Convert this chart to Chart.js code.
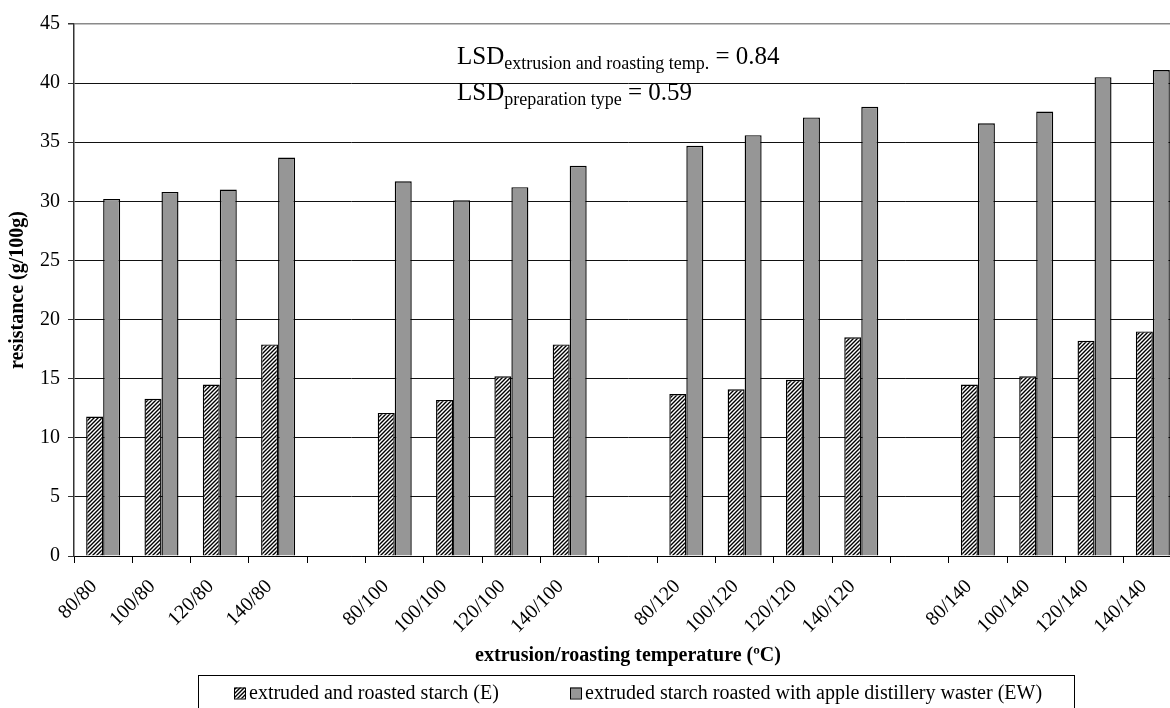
<!DOCTYPE html>
<html>
<head>
<meta charset="utf-8">
<script src="https://cdn.jsdelivr.net/npm/chart.js@4.4.0/dist/chart.umd.min.js"></script>
<style>
  html, body { margin: 0; padding: 0; background: #fff; overflow: hidden; width: 1170px; height: 708px; }
  #wrap { position: relative; width: 1190px; height: 720px; }
</style>
</head>
<body>
<div id="wrap"><canvas id="c" width="1190" height="720"></canvas></div>
<script>
// Extrusion/roasting temperature combinations; empty slots separate the roasting groups
const categories = [
  '80/80', '100/80', '120/80', '140/80', '',
  '80/100', '100/100', '120/100', '140/100', '',
  '80/120', '100/120', '120/120', '140/120', '',
  '80/140', '100/140', '120/140', '140/140'
];

// Resistant starch content, g/100g
const seriesE = [
  11.8, 13.3, 14.5, 17.9, null,
  12.1, 13.2, 15.2, 17.9, null,
  13.7, 14.1, 14.9, 18.5, null,
  14.5, 15.2, 18.2, 19.0
];
const seriesEW = [
  30.2, 30.8, 31.0, 33.7, null,
  31.7, 30.1, 31.2, 33.0, null,
  34.7, 35.6, 37.1, 38.0, null,
  36.6, 37.6, 40.5, 41.1
];

const seriesNames = [
  'extruded and roasted starch (E)',
  'extruded starch roasted with apple distillery waster (EW)'
];

const yMin = 0, yMax = 45, yStep = 5;

const lsdLines = [
  { main: 'LSD', sub: 'extrusion and roasting temp.', value: ' = 0.84' },
  { main: 'LSD', sub: 'preparation type', value: ' = 0.59' }
];

const SERIF = "'Liberation Serif', 'Times New Roman', serif";

// Diagonal hatch fill for the E series
function makeHatch() {
  const t = document.createElement('canvas');
  t.width = 4; t.height = 4;
  const g = t.getContext('2d');
  g.fillStyle = '#fff';
  g.fillRect(0, 0, 4, 4);
  g.strokeStyle = '#000';
  g.lineWidth = 1.4;
  g.beginPath();
  g.moveTo(-1, 5); g.lineTo(5, -1);
  g.moveTo(-1, 1); g.lineTo(1, -1);
  g.moveTo(3, 5); g.lineTo(5, 3);
  g.stroke();
  return g.createPattern(t, 'repeat');
}
const hatch = makeHatch();
const ewGray = '#969696';

// LSD annotation in the upper part of the plot
const lsdPlugin = {
  id: 'lsd',
  afterDatasetsDraw(chart) {
    const ctx = chart.ctx;
    const a = chart.chartArea;
    const x0 = a.left + 383;
    const baselines = [a.top + 40, a.top + 76];
    ctx.save();
    ctx.fillStyle = '#000';
    ctx.textBaseline = 'alphabetic';
    ctx.textAlign = 'left';
    lsdLines.forEach((ln, i) => {
      let x = x0;
      const y = baselines[i];
      ctx.font = '25px ' + SERIF;
      ctx.fillText(ln.main, x, y);
      x += ctx.measureText(ln.main).width;
      ctx.font = '18px ' + SERIF;
      ctx.fillText(ln.sub, x, y + 5);
      x += ctx.measureText(ln.sub).width;
      ctx.font = '25px ' + SERIF;
      ctx.fillText(ln.value, x, y);
    });
    ctx.restore();
  }
};

// Boxed legend below the axis title
const boxLegend = {
  id: 'boxLegend',
  afterDraw(chart) {
    const ctx = chart.ctx;
    const top = 675.5;
    ctx.save();
    ctx.strokeStyle = '#000';
    ctx.lineWidth = 1;
    ctx.strokeRect(198.5, top, 876, 60);
    ctx.font = '20px ' + SERIF;
    ctx.textBaseline = 'middle';
    ctx.fillStyle = '#000';
    const items = [
      { x: 234, fill: hatch, label: seriesNames[0] },
      { x: 570, fill: ewGray, label: seriesNames[1] }
    ];
    items.forEach(it => {
      ctx.fillStyle = it.fill;
      ctx.fillRect(it.x, top + 12, 11, 11);
      ctx.strokeRect(it.x + 0.5, top + 12.5, 11, 11);
      ctx.fillStyle = '#000';
      ctx.fillText(it.label, it.x + 15, top + 18);
    });
    ctx.restore();
  }
};

new Chart(document.getElementById('c'), {
  type: 'bar',
  data: {
    labels: categories,
    datasets: [
      {
        label: seriesNames[0],
        data: seriesE,
        backgroundColor: hatch,
        borderColor: '#000',
        borderWidth: 1.4,
        categoryPercentage: 0.583,
        barPercentage: 1.0
      },
      {
        label: seriesNames[1],
        data: seriesEW,
        backgroundColor: ewGray,
        borderColor: '#000',
        borderWidth: 1.4,
        categoryPercentage: 0.583,
        barPercentage: 1.0
      }
    ]
  },
  options: {
    responsive: false,
    animation: false,
    layout: { padding: { top: 24, right: 8, bottom: 52, left: 0 } },
    plugins: {
      legend: { display: false },
      tooltip: { enabled: false }
    },
    scales: {
      x: {
        offset: true,
        grid: {
          offset: true,
          drawOnChartArea: false,
          drawTicks: true,
          tickLength: 7,
          color: '#000'
        },
        border: { display: true, color: '#000', width: 1 },
        ticks: {
          autoSkip: false,
          maxRotation: 45,
          minRotation: 45,
          color: '#000',
          padding: 12,
          labelOffset: -9,
          font: { family: SERIF, size: 20 }
        },
        title: {
          display: true,
          text: 'extrusion/roasting temperature (ºC)',
          color: '#000',
          font: { family: SERIF, size: 20, weight: 'bold' },
          padding: { top: 4, bottom: 0 }
        },
        afterFit(scale) { scale.height = 112; }
      },
      y: {
        min: yMin,
        max: yMax,
        ticks: {
          stepSize: yStep,
          color: '#000',
          padding: 8,
          font: { family: SERIF, size: 20 }
        },
        grid: {
          color: ctx => (ctx.tick && ctx.tick.value === yMax ? '#8a8a8a' : '#111'),
          lineWidth: ctx => (ctx.tick && ctx.tick.value === yMax ? 1.5 : 1),
          tickLength: 6,
          tickColor: '#333'
        },
        border: { display: true, color: '#333', width: 1.5 },
        title: {
          display: true,
          text: 'resistance (g/100g)',
          color: '#000',
          font: { family: SERIF, size: 20, weight: 'bold' },
          padding: { top: 6, bottom: 0 }
        },
        afterFit(scale) { scale.width = 74; }
      }
    }
  },
  plugins: [lsdPlugin, boxLegend]
});
</script>
</body>
</html>
